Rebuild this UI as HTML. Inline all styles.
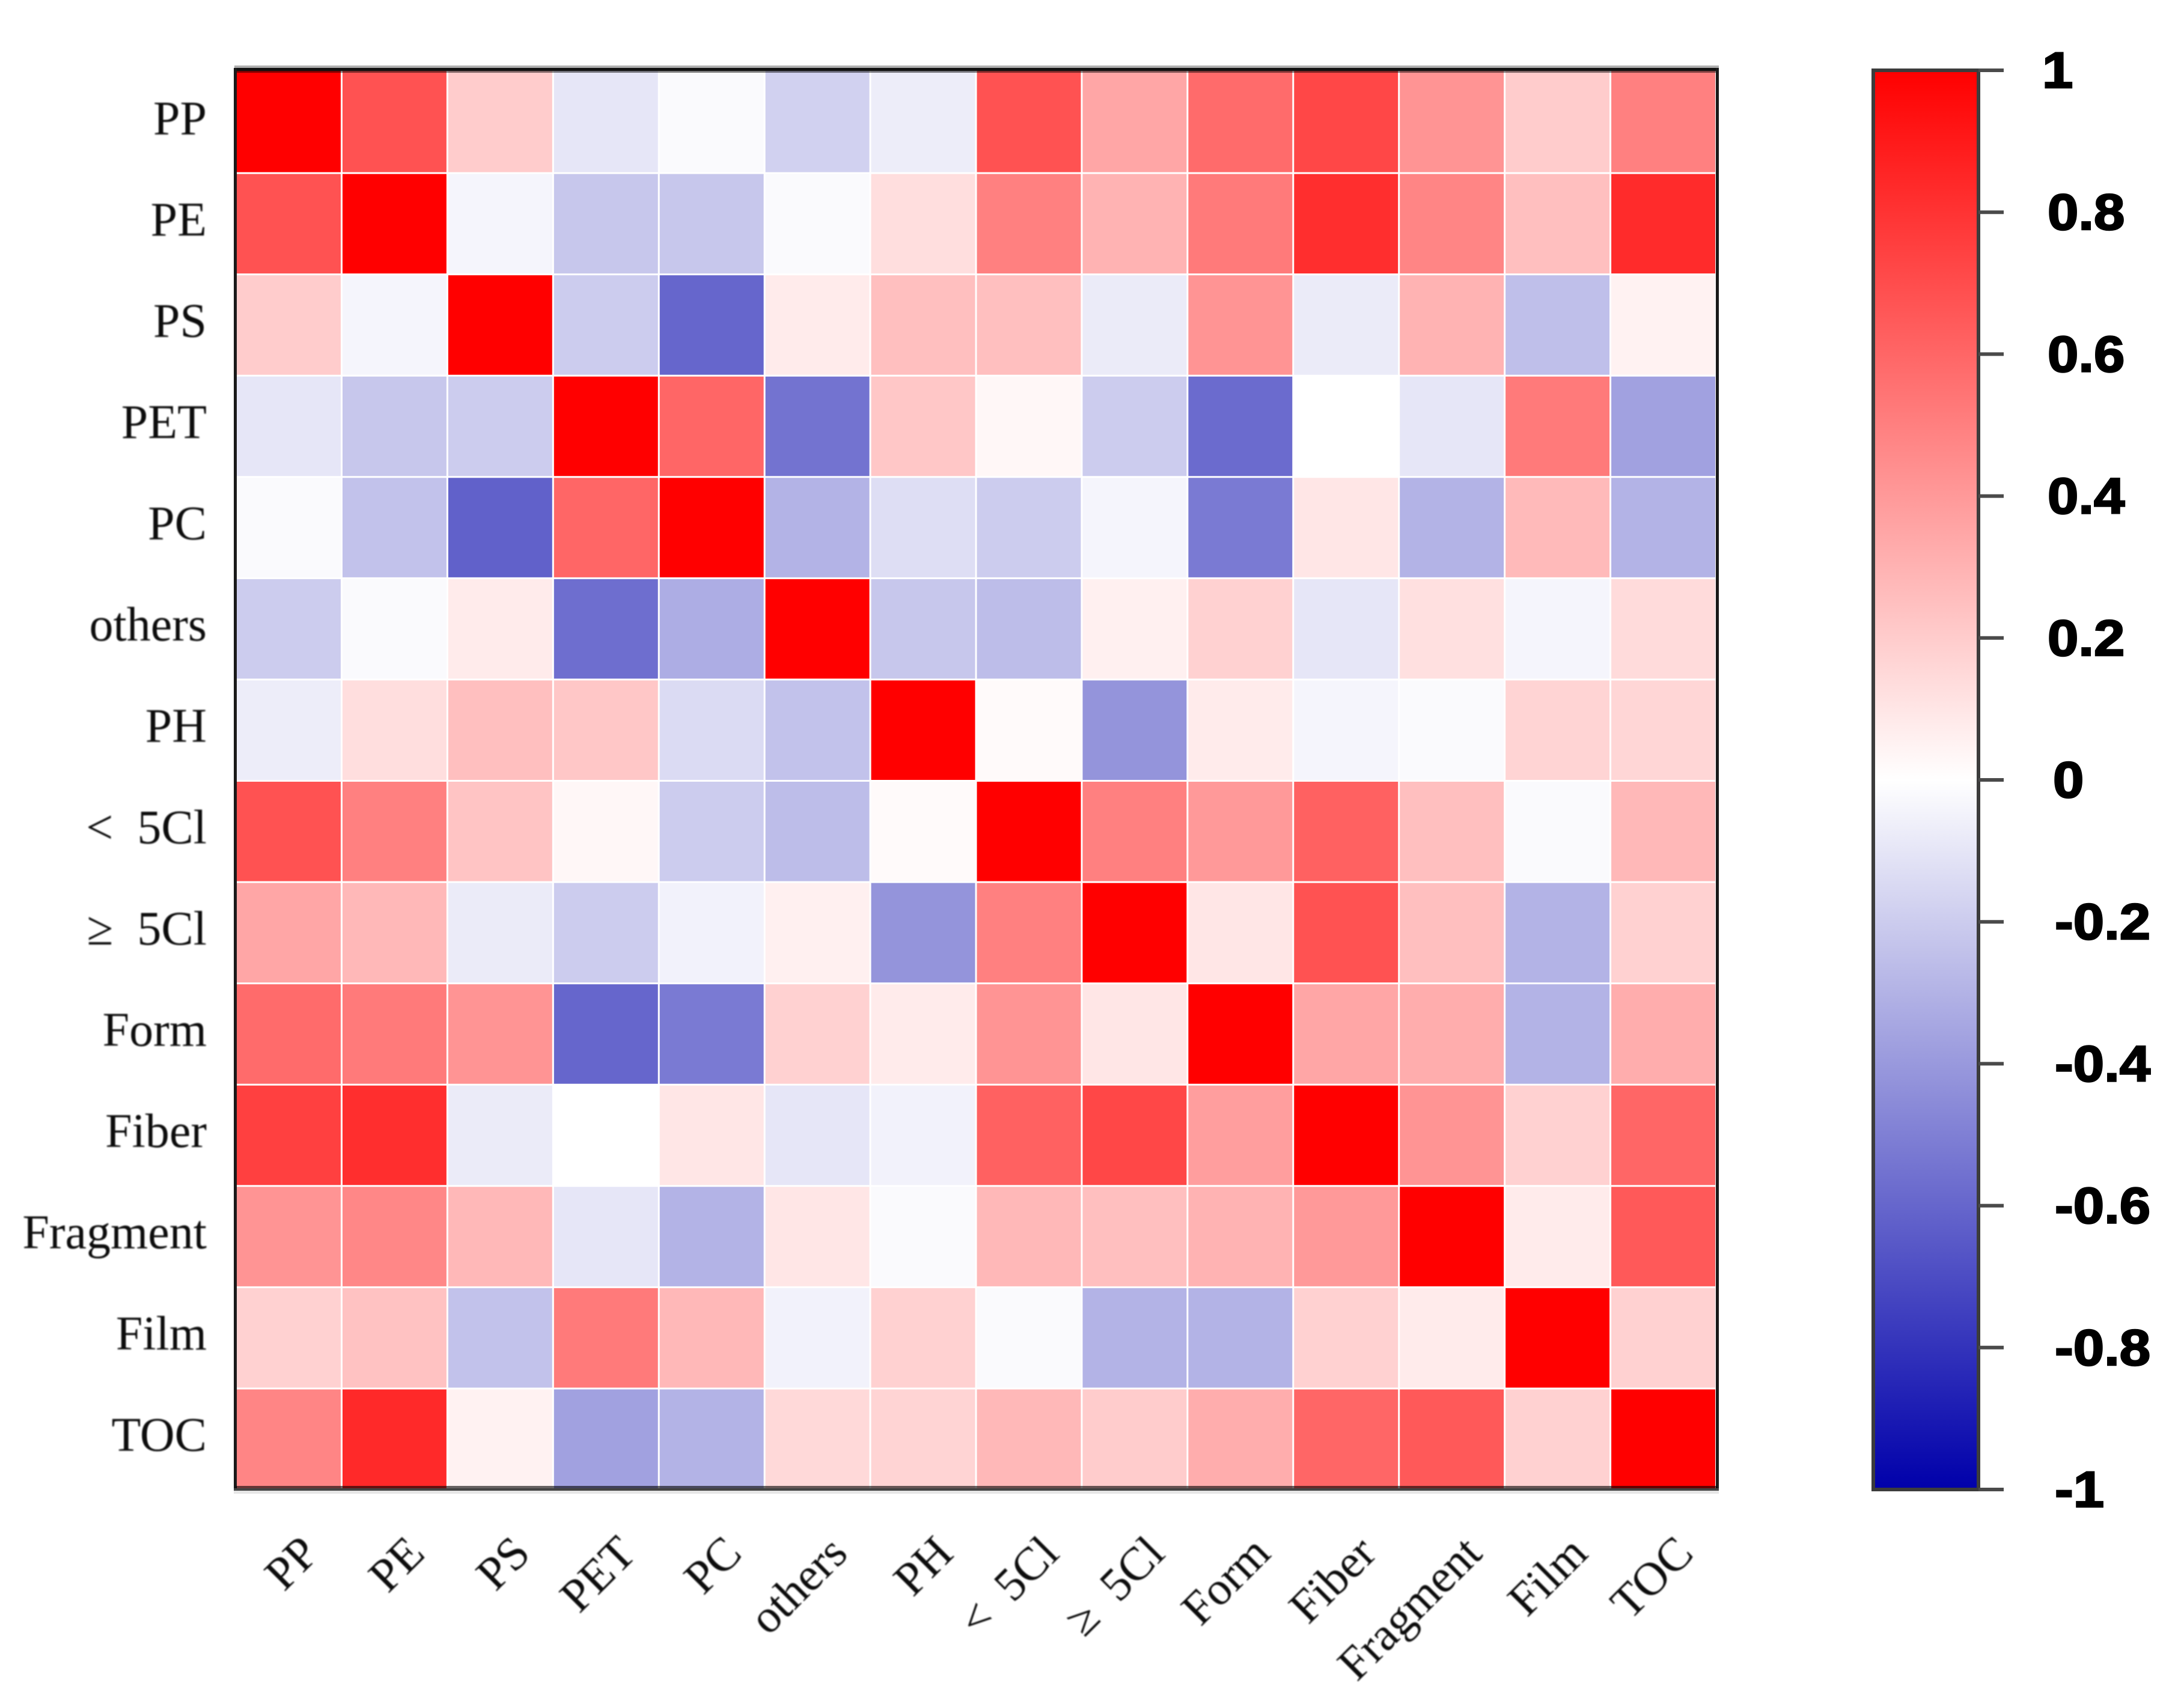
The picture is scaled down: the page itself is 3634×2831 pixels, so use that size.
<!DOCTYPE html>
<html lang="en">
<head>
<meta charset="utf-8">
<title>Correlation heatmap</title>
<style>
html,body{margin:0;padding:0;background:#fff;width:3634px;height:2831px;overflow:hidden}
svg{display:block}
</style>
</head>
<body>
<svg id="chart" xmlns="http://www.w3.org/2000/svg" width="3634" height="2831" viewBox="0 0 3634 2831">
  <defs>
    <linearGradient id="barGradient" x1="0" y1="0" x2="0" y2="1">
      <stop id="stopTop" offset="0"/>
      <stop id="stopMid" offset="0.5"/>
      <stop id="stopBottom" offset="1"/>
    </linearGradient>
    <filter id="softText" x="-10%" y="-10%" width="120%" height="120%">
      <feGaussianBlur stdDeviation="1"/>
    </filter>
  </defs>
  <rect x="0" y="0" width="3634" height="2831" fill="#ffffff"/>
  <g id="cells"></g>
  <g id="frame"></g>
  <g id="yLabels" filter="url(#softText)"></g>
  <g id="xLabels" filter="url(#softText)"></g>
  <g id="colorbar"></g>
</svg>
<script>
const categories = ['PP','PE','PS','PET','PC','others','PH','<\u20025Cl','\u2265\u20025Cl','Form','Fiber','Fragment','Film','TOC'];

const rowPP       = [1, .68, .2, -.1, -.02, -.18, -.07, .68, .35, .58, .72, .42, .2, .5];
const rowPE       = [.68, 1, -.04, -.22, -.22, -.02, .13, .5, .3, .52, .82, .48, .25, .83];
const rowPS       = [.2, -.04, 1, -.2, -.6, .08, .25, .25, -.08, .42, -.08, .3, -.25, .05];
const rowPET      = [-.1, -.22, -.2, 1, .6, -.55, .22, .03, -.2, -.58, 0, -.1, .52, -.37];
const rowPC       = [-.02, -.24, -.62, .6, 1, -.3, -.13, -.2, -.04, -.52, .1, -.3, .27, -.3];
const rowOthers   = [-.2, -.02, .08, -.57, -.32, 1, -.22, -.26, .06, .18, -.1, .12, -.04, .14];
const rowPH       = [-.07, .13, .25, .22, -.14, -.24, 1, .02, -.42, .08, -.04, -.02, .17, .16];
const rowLess5Cl  = [.68, .5, .23, .03, -.2, -.26, .02, 1, .5, .4, .62, .25, -.02, .28];
const rowOver5Cl  = [.35, .28, -.08, -.2, -.05, .06, -.42, .5, 1, .1, .68, .25, -.3, .18];
const rowForm     = [.58, .52, .42, -.6, -.52, .18, .08, .42, .1, 1, .35, .32, -.3, .32];
const rowFiber    = [.75, .82, -.08, 0, .1, -.1, -.05, .62, .72, .38, 1, .42, .18, .6];
const rowFragment = [.42, .47, .28, -.1, -.3, .1, -.02, .28, .25, .3, .4, 1, .08, .65];
const rowFilm     = [.18, .24, -.24, .52, .28, -.05, .18, -.02, -.3, -.3, .18, .08, 1, .18];
const rowTOC      = [.48, .84, .05, -.37, -.3, .15, .17, .28, .2, .32, .6, .65, .18, 1];
const matrixRows  = [rowPP,rowPE,rowPS,rowPET,rowPC,rowOthers,rowPH,rowLess5Cl,rowOver5Cl,rowForm,rowFiber,rowFragment,rowFilm,rowTOC];

const colorbarTicks = [1,0.8,0.6,0.4,0.2,0,-0.2,-0.4,-0.6,-0.8,-1];
const colorbarTickLabels = ['1','0.8','0.6','0.4','0.2','0','-0.2','-0.4','-0.6','-0.8','-1'];

const SVGNS = 'http://www.w3.org/2000/svg';
const plot = {left:394, right:2857, top:121, bottom:2481};
const bar = {left:3117, right:3292, top:117, bottom:2479};

function xBand(i){ return plot.left + i * (plot.right - plot.left) / categories.length; }
function yBand(i){ return plot.top + i * (plot.bottom - plot.top) / categories.length; }
function barY(v){ return bar.top + (1 - v) / 2 * (bar.bottom - bar.top); }
function colorFor(v){
  const c = Math.max(-1, Math.min(1, v));
  if (c >= 0) {
    const g = Math.round(255 * (1 - c));
    return 'rgb(255,' + g + ',' + g + ')';
  }
  const t = -c;
  const rg = Math.round(255 * (1 - t));
  const b = Math.round(255 - 85 * t);
  return 'rgb(' + rg + ',' + rg + ',' + b + ')';
}
function mk(tag, attrs, parent){
  const el = document.createElementNS(SVGNS, tag);
  for (const k in attrs) el.setAttribute(k, attrs[k]);
  parent.appendChild(el);
  return el;
}

const cellsG = document.getElementById('cells');
const bandW = (plot.right - plot.left) / categories.length;
const bandH = (plot.bottom - plot.top) / categories.length;
matrixRows.forEach(function(row, r){
  row.forEach(function(v, c){
    const extra = r === 0 ? 4 : 0;
    const cell = mk('rect', {x:xBand(c), y:yBand(r) - extra, width:bandW - 3, height:bandH - 3 + extra, fill:colorFor(v)}, cellsG);
    
    
  });
});

const frameG = document.getElementById('frame');
const topGlow = mk('rect', {x:390, y:109, width:2470, height:4, fill:'#b0b0b0'}, frameG);


const topBand = mk('rect', {x:390, y:117, width:2469, height:4, fill:'#000', opacity:0.5}, frameG);


const topLine = mk('rect', {x:390, y:113, width:2469, height:5, fill:'#111'}, frameG);


const leftLine = mk('rect', {x:389, y:113, width:5, height:2372, fill:'#1a1a1a'}, frameG);


const rightLine = mk('rect', {x:2855, y:113, width:5, height:2372, fill:'#1a1a1a'}, frameG);


const bottomBand = mk('rect', {x:392, y:2473, width:2465, height:4, fill:'#000', opacity:0.6}, frameG);


const bottomLine = mk('rect', {x:389, y:2477, width:2471, height:4, fill:'#444'}, frameG);


const bottomGlow = mk('rect', {x:389, y:2481, width:2471, height:5, fill:'#e6e6e6'}, frameG);



const yG = document.getElementById('yLabels');
categories.forEach(function(name, i){
  const t = mk('text', {x:344, y:yBand(i) + bandH / 2 + 18, 'text-anchor':'end', 'font-family':'"Liberation Serif", serif', 'font-size':80, fill:'#111111'}, yG);
  t.textContent = name;
  
  
});

const xG = document.getElementById('xLabels');
categories.forEach(function(name, i){
  const px = xBand(i) + bandW / 2 + 52;
  const py = 2589;
  const t = mk('text', {x:0, y:0, 'text-anchor':'end', 'font-family':'"Liberation Serif", serif', 'font-size':78, fill:'#111111', transform:'translate(' + px + ',' + py + ') rotate(-45)'}, xG);
  t.textContent = name;
  
  
});

document.getElementById('stopTop').setAttribute('stop-color', colorFor(1));
document.getElementById('stopMid').setAttribute('stop-color', colorFor(0));
document.getElementById('stopBottom').setAttribute('stop-color', colorFor(-1));

const cbG = document.getElementById('colorbar');
const barRect = mk('rect', {x:bar.left, y:bar.top, width:bar.right - bar.left, height:bar.bottom - bar.top, fill:'url(#barGradient)', stroke:'#3c3c3c', 'stroke-width':6}, cbG);



colorbarTicks.forEach(function(v, i){
  const y = barY(v);
  const tick = mk('line', {x1:bar.right, x2:3334, y1:y, y2:y, stroke:'#4a4a4a', 'stroke-width':6}, cbG);
  
  
  const txt = colorbarTickLabels[i];
  let lx = 3407;
  if (v < 0) lx = 3419;
  if (v === 0) lx = 3416;
  if (v === 1) lx = 3398;
  const lbl = mk('text', {x:0, y:0, 'font-family':'"Liberation Sans", sans-serif', 'font-weight':'bold', 'font-size':84, fill:'#000', stroke:'#000', 'stroke-width':2.5, transform:'translate(' + lx + ',' + (y + 29) + ') scale(1.1,1)'}, cbG);
  lbl.textContent = txt;
  
  
});
</script>
</body>
</html>
